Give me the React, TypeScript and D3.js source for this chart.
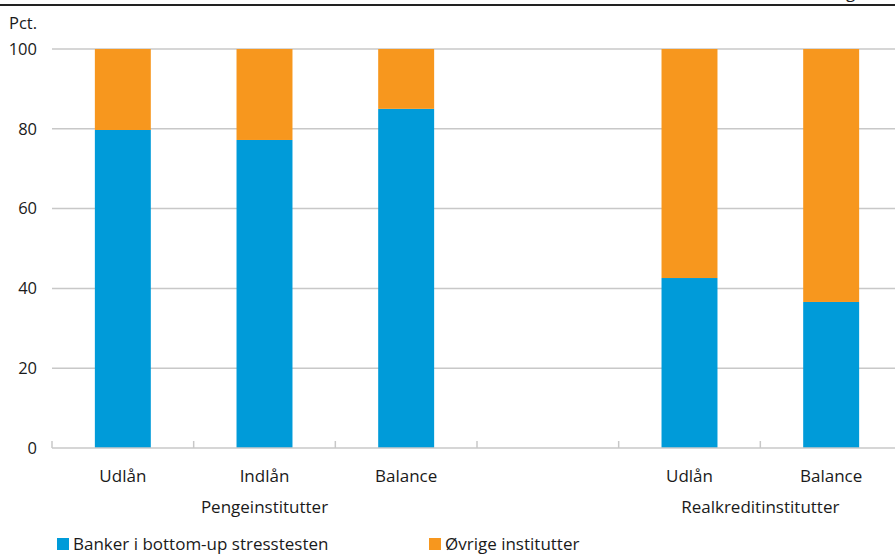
import * as d3 from 'd3';
import * as React from 'react';

const { useRef, useEffect } = React;

const width = 895;
const height = 555;
const margin = { top: 49, right: -7, bottom: 107, left: 52 };

// categories on the x axis ('' is the empty gap between the two groups)
const categories = ['Udlån', 'Indlån', 'Balance', '', 'Udlån ', 'Balance '];
const bankShare = [79.7, 77.2, 85.0, NaN, 42.6, 36.6];
const otherShare = [20.3, 22.8, 15.0, NaN, 57.4, 63.4];
const yTicks = [0, 20, 40, 60, 80, 100];
const groups = [
  { name: 'Pengeinstitutter', from: 0, to: 2 },
  { name: 'Realkreditinstitutter', from: 4, to: 5 },
];
const seriesNames = ['Banker i bottom-up stresstesten', 'Øvrige institutter'];
const colors = ['#009bd9', '#f7971e'];

const font = "'Open Sans', 'Noto Sans', sans-serif";
const textColor = '#1a1a1a';
const labelSize = 17;
const tickSize = 16.5;

export default () => {
  const rootRef = useRef<SVGSVGElement>(null);

  useEffect(() => {
    const svg = d3.select(rootRef.current);
    svg.selectAll('*').remove();

    const x = d3
      .scaleBand<number>()
      .domain(d3.range(categories.length))
      .range([margin.left, width - margin.right])
      .padding(0);

    const y = d3
      .scaleLinear()
      .domain([0, 100])
      .range([height - margin.bottom, margin.top]);

    const barW = x.bandwidth() * 0.395;

    // top rule and cut-off heading glyph
    svg
      .append('line')
      .attr('x1', 0)
      .attr('x2', width)
      .attr('y1', 5)
      .attr('y2', 5)
      .attr('stroke', '#222')
      .attr('stroke-width', 2);
    svg
      .append('text')
      .attr('x', 846)
      .attr('y', -2)
      .attr('font-family', font)
      .attr('font-size', labelSize)
      .attr('fill', textColor)
      .text('g');

    // gridlines
    svg
      .append('g')
      .selectAll('line')
      .data(yTicks.filter(t => t > 0))
      .join('line')
      .attr('x1', margin.left)
      .attr('x2', width)
      .attr('y1', d => y(d))
      .attr('y2', d => y(d))
      .attr('stroke', '#c8c8c8')
      .attr('stroke-width', 1.5);

    // y labels
    svg
      .append('g')
      .selectAll('text')
      .data(yTicks)
      .join('text')
      .attr('x', 37)
      .attr('y', d => y(d))
      .attr('dy', '0.35em')
      .attr('text-anchor', 'end')
      .attr('font-family', font)
      .attr('font-size', tickSize)
      .attr('fill', textColor)
      .text(d => d);

    svg
      .append('text')
      .attr('x', 9)
      .attr('y', 23)
      .attr('dy', '0.35em')
      .attr('font-family', font)
      .attr('font-size', tickSize)
      .attr('fill', textColor)
      .text('Pct.');

    // bars
    const stackData = categories.map((c, i) => ({ i, a: bankShare[i], b: otherShare[i] }));
    const stacked = d3
      .stack<any>()
      .keys(['a', 'b'])(stackData.filter(d => !isNaN(d.a)));

    svg
      .append('g')
      .selectAll('g')
      .data(stacked)
      .join('g')
      .attr('fill', (d, k) => colors[k])
      .selectAll('rect')
      .data(d => d)
      .join('rect')
      .attr('x', d => (x(d.data.i) as number) + (x.bandwidth() - barW) / 2)
      .attr('width', barW)
      .attr('y', d => y(d[1]))
      .attr('height', d => y(d[0]) - y(d[1]));

    // baseline and band ticks
    const base = y(0);
    svg
      .append('line')
      .attr('x1', margin.left)
      .attr('x2', width)
      .attr('y1', base)
      .attr('y2', base)
      .attr('stroke', '#c8c8c8')
      .attr('stroke-width', 1.5);
    svg
      .append('g')
      .selectAll('line')
      .data(d3.range(categories.length))
      .join('line')
      .attr('x1', d => x(d) as number)
      .attr('x2', d => x(d) as number)
      .attr('y1', base)
      .attr('y2', base - 7)
      .attr('stroke', '#c8c8c8')
      .attr('stroke-width', 1.5);

    // category labels
    svg
      .append('g')
      .selectAll('text')
      .data(categories)
      .join('text')
      .attr('x', (d, i) => (x(i) as number) + x.bandwidth() / 2)
      .attr('y', 476)
      .attr('dy', '0.35em')
      .attr('text-anchor', 'middle')
      .attr('font-family', font)
      .attr('font-size', labelSize)
      .attr('fill', textColor)
      .text(d => d.trim());

    // group labels
    svg
      .append('g')
      .selectAll('text')
      .data(groups)
      .join('text')
      .attr('x', d => ((x(d.from) as number) + (x(d.to) as number) + x.bandwidth()) / 2)
      .attr('y', 507)
      .attr('dy', '0.35em')
      .attr('text-anchor', 'middle')
      .attr('font-family', font)
      .attr('font-size', labelSize)
      .attr('fill', textColor)
      .text(d => d.name);

    // legend
    const legendX = [57, 429];
    const lg = svg
      .append('g')
      .selectAll('g')
      .data(seriesNames)
      .join('g')
      .attr('transform', (d, i) => `translate(${legendX[i]},538)`);
    lg.append('rect')
      .attr('width', 12)
      .attr('height', 12)
      .attr('fill', (d, i) => colors[i]);
    lg.append('text')
      .attr('x', 16)
      .attr('y', 6)
      .attr('dy', '0.35em')
      .attr('font-family', font)
      .attr('font-size', labelSize)
      .attr('fill', textColor)
      .text(d => d);
  }, []);

  return (
    <svg
      ref={rootRef}
      width={width}
      height={height}
      style={{ position: 'absolute', left: 0, top: 0, overflow: 'hidden' }}
    />
  );
};
